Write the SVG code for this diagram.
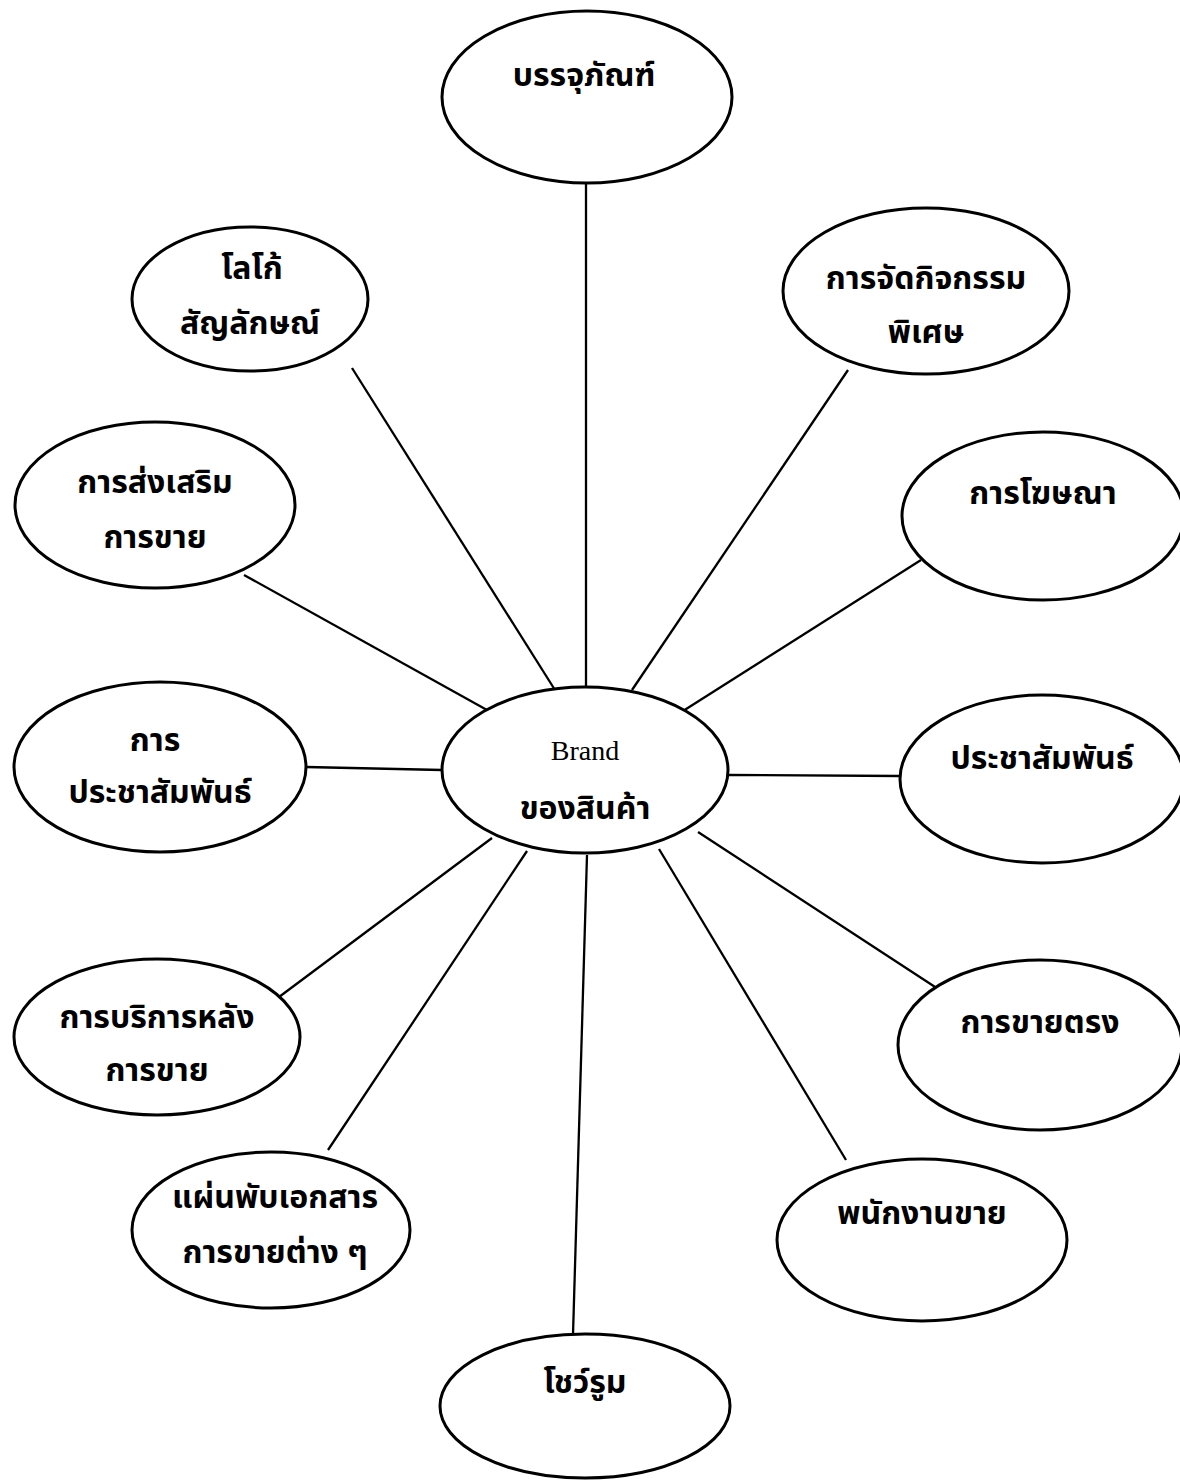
<svg xmlns="http://www.w3.org/2000/svg" width="1180" height="1482" viewBox="0 0 1180 1482">
<style>
.n{fill:#fff;stroke:#000;stroke-width:3}
.c line{stroke:#000;stroke-width:2.3}
.t{font-family:"Noto Sans Thai","Noto Sans","DejaVu Sans",sans-serif;font-weight:bold;font-size:32px;fill:#000;text-anchor:middle}
.b{font-family:"Liberation Serif",serif;font-size:28px;fill:#000;text-anchor:middle}
</style>
<rect width="1180" height="1482" fill="#fff"/>
<g class="c" id="connectors">
<line x1="586" y1="183" x2="586" y2="688"/>
<line x1="352" y1="368" x2="555" y2="690"/>
<line x1="848" y1="370" x2="632" y2="690"/>
<line x1="244" y1="575" x2="487" y2="710"/>
<line x1="921" y1="560" x2="683" y2="711"/>
<line x1="306" y1="767" x2="442" y2="770"/>
<line x1="728" y1="775" x2="900" y2="776"/>
<line x1="275" y1="1000" x2="492" y2="838"/>
<line x1="955" y1="1000" x2="698" y2="832"/>
<line x1="328" y1="1150" x2="527" y2="851"/>
<line x1="846" y1="1160" x2="659" y2="849"/>
<line x1="587" y1="855" x2="573" y2="1335"/>
</g>
<g id="brand"><ellipse class="n" cx="585" cy="770" rx="143" ry="83"/><text class="b" x="585" y="760">Brand</text><text class="t" x="585" y="819">ของสินค้า</text></g>
<g id="packaging"><ellipse class="n" cx="587" cy="97" rx="145" ry="86"/><text class="t" x="584" y="86">บรรจุภัณฑ์</text></g>
<g id="logo"><ellipse class="n" cx="250" cy="299" rx="118" ry="72"/><text class="t" x="252" y="279">โลโก้</text><text class="t" x="250" y="334">สัญลักษณ์</text></g>
<g id="event"><ellipse class="n" cx="926" cy="291" rx="143" ry="83"/><text class="t" x="926" y="289">การจัดกิจกรรม</text><text class="t" x="926" y="343">พิเศษ</text></g>
<g id="promotion"><ellipse class="n" cx="155" cy="505" rx="140" ry="83"/><text class="t" x="155" y="493">การส่งเสริม</text><text class="t" x="155" y="548">การขาย</text></g>
<g id="advertising"><ellipse class="n" cx="1043" cy="516" rx="141" ry="84"/><text class="t" x="1043" y="504">การโฆษณา</text></g>
<g id="pr-left"><ellipse class="n" cx="160" cy="767" rx="146" ry="85"/><text class="t" x="155" y="751">การ</text><text class="t" x="160" y="803">ประชาสัมพันธ์</text></g>
<g id="pr-right"><ellipse class="n" cx="1042" cy="779" rx="142" ry="84"/><text class="t" x="1042" y="769">ประชาสัมพันธ์</text></g>
<g id="after-sales"><ellipse class="n" cx="157" cy="1037" rx="143" ry="78"/><text class="t" x="157" y="1028">การบริการหลัง</text><text class="t" x="157" y="1081">การขาย</text></g>
<g id="direct-sales"><ellipse class="n" cx="1040" cy="1045" rx="142" ry="85"/><text class="t" x="1040" y="1033">การขายตรง</text></g>
<g id="brochure"><ellipse class="n" cx="271" cy="1230" rx="139" ry="78"/><text class="t" x="275" y="1208">แผ่นพับเอกสาร</text><text class="t" x="275" y="1263">การขายต่าง ๆ</text></g>
<g id="salesperson"><ellipse class="n" cx="922" cy="1240" rx="145" ry="81"/><text class="t" x="922" y="1224">พนักงานขาย</text></g>
<g id="showroom"><ellipse class="n" cx="585" cy="1406" rx="145" ry="72"/><text class="t" x="585" y="1393">โชว์รูม</text></g>
</svg>
